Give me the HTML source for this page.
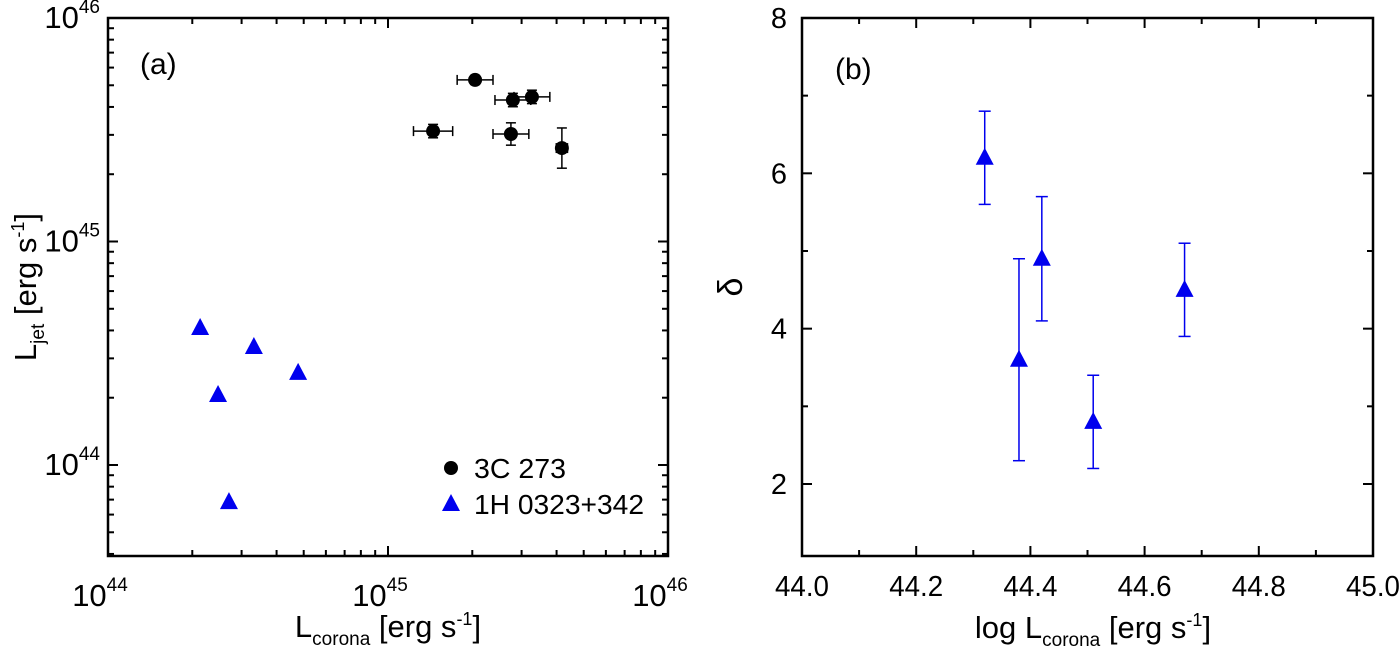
<!DOCTYPE html>
<html><head><meta charset="utf-8"><style>
html,body{margin:0;padding:0;background:#fff;}
svg{display:block;font-family:"Liberation Sans",Arial,sans-serif;}
</style></head><body>
<svg id="chart" width="1400" height="653" viewBox="0 0 1400 653"></svg>
<script>
// Panel (a) data (log10 values)
const quasarLogX = [45.311, 45.446, 45.514, 45.161, 45.439, 45.621];
const quasarLogY = [45.723, 45.633, 45.647, 45.494, 45.481, 45.418];
const quasarXErr = [0.064, 0.064, 0.064, 0.07, 0.064, 0.02];
const quasarYErr = [0.02, 0.03, 0.03, 0.03, 0.05, 0.09];
const nlsLogX = [44.329, 44.393, 44.521, 44.679, 44.432];
const nlsLogY = [44.613, 44.313, 44.528, 44.412, 43.834];
// Panel (b) data
const bLogL = [44.32, 44.38, 44.42, 44.51, 44.67];
const bDelta = [6.2, 3.6, 4.9, 2.8, 4.5];
const bErrLo = [5.6, 2.3, 4.1, 2.2, 3.9];
const bErrHi = [6.8, 4.9, 5.7, 3.4, 5.1];
const bXTicks = ["44.0","44.2","44.4","44.6","44.8","45.0"];
const bYTicks = [2,4,6,8];

const NS="http://www.w3.org/2000/svg";
const svg=document.getElementById('chart');
function mk(tag,attrs,parent){const e=document.createElementNS(NS,tag);for(const k in attrs)e.setAttribute(k,attrs[k]);(parent||svg).appendChild(e);return e;}
function line(x1,y1,x2,y2,c,w,p){return mk('line',{x1,y1,x2,y2,stroke:c||'#000','stroke-width':w||2},p);}

// Panel a axes
const aL=108,aR=668,aT=18,aB=556;
const ax=v=>aL+(v-44)*(aR-aL)/2;
const ay=v=>aT+(46-v)*223.5;
const gA=mk('g',{});


mk('rect',{x:aL,y:aT,width:aR-aL,height:aB-aT,fill:'none',stroke:'#000','stroke-width':2.5},gA);
for(let d=44;d<46;d++){for(let m=1;m<=10;m++){const v=d+Math.log10(m);const X=ax(v);const len=m===10||m===1?10:6;
 line(X,aB,X,aB-len,'#000',2,gA);line(X,aT,X,aT+len,'#000',2,gA);}}
for(let d=43;d<46;d++){for(let m=1;m<=10;m++){const v=d+Math.log10(m);if(v<43.59||v>46)continue;const Y=ay(v);const len=m===10||m===1?10:6;
 line(aL,Y,aL+len,Y,'#000',2,gA);line(aR,Y,aR-len,Y,'#000',2,gA);}}
function pow(x,y,e,anchor,p,name){const t=mk('text',{x,y,'font-size':31,'text-anchor':anchor},p);
 
 t.innerHTML='10<tspan dy="-15" font-size="19">'+e+'</tspan>';return t;}
[44,45,46].forEach(e=>pow(ax(e)-8,606,e,'middle',gA,'x-tick-label'));
[44,45,46].forEach(e=>pow(aL-8,ay(e)+10,e,'end',gA,'y-tick-label'));
let tt=mk('text',{x:140,y:74,'font-size':30},gA);tt.textContent='(a)';

tt=mk('text',{x:388,y:637,'font-size':31,'text-anchor':'middle'},gA);
tt.innerHTML='L<tspan dy="8" font-size="19">corona</tspan><tspan dy="-8"> [erg s</tspan><tspan dy="-12" font-size="18">-1</tspan><tspan dy="12">]</tspan>';

tt=mk('text',{x:0,y:0,'font-size':31,'text-anchor':'middle',transform:'translate(36,287) rotate(-90)'},gA);
tt.innerHTML='L<tspan dy="8" font-size="19">jet</tspan><tspan dy="-8">  [erg s</tspan><tspan dy="-12" font-size="18">-1</tspan><tspan dy="12">]</tspan>';

for(let i=0;i<quasarLogX.length;i++){
 const X=ax(quasarLogX[i]),Y=ay(quasarLogY[i]);
 const x1=ax(quasarLogX[i]-quasarXErr[i]),x2=ax(quasarLogX[i]+quasarXErr[i]);
 const y1=ay(quasarLogY[i]-quasarYErr[i]),y2=ay(quasarLogY[i]+quasarYErr[i]);
 const g=mk('g',{},gA);
 line(x1,Y,x2,Y,'#000',1.5,g);line(x1,Y-5,x1,Y+5,'#000',1.5,g);line(x2,Y-5,x2,Y+5,'#000',1.5,g);
 line(X,y1,X,y2,'#000',1.5,g);line(X-5,y1,X+5,y1,'#000',1.5,g);line(X-5,y2,X+5,y2,'#000',1.5,g);
 mk('circle',{cx:X,cy:Y,r:7,fill:'#000'},g);
}
function tri(X,Y,p,name){const t=mk('polygon',{points:`${X},${Y-10} ${X-9},${Y+7} ${X+9},${Y+7}`,fill:'#0000ee'},p);
 return t;}
for(let i=0;i<nlsLogX.length;i++)tri(ax(nlsLogX[i]),ay(nlsLogY[i]),gA,'point-1h0323');
// legend
const lg=mk('g',{},gA);
mk('circle',{cx:451,cy:468,r:7,fill:'#000'},lg);
tt=mk('text',{x:474,y:478,'font-size':28,textLength:92,lengthAdjust:'spacingAndGlyphs'},lg);tt.textContent='3C 273';

tri(451,504,lg,'legend-marker-1h0323');
tt=mk('text',{x:474,y:514,'font-size':28,textLength:170,lengthAdjust:'spacingAndGlyphs'},lg);tt.textContent='1H 0323+342';


// Panel b
const bL=802,bR=1373,bT=18,bB=556;
const bx=v=>bL+(v-44)*(bR-bL);
const by=v=>484-(v-2)*77.67;
const gB=mk('g',{});

mk('rect',{x:bL,y:bT,width:bR-bL,height:bB-bT,fill:'none',stroke:'#000','stroke-width':2.5},gB);
for(let k=0;k<=10;k++){const X=bx(44+k*0.1);const len=k%2?6:10;line(X,bB,X,bB-len,'#000',2,gB);line(X,bT,X,bT+len,'#000',2,gB);}
bXTicks.forEach(s=>{const t=mk('text',{x:bx(parseFloat(s)),y:596,'font-size':29,'text-anchor':'middle',textLength:54,lengthAdjust:'spacingAndGlyphs'},gB);t.textContent=s;
 });
for(let v=2;v<=8;v++){const Y=by(v);const len=v%2?6:10;line(bL,Y,bL+len,Y,'#000',2,gB);line(bR,Y,bR-len,Y,'#000',2,gB);}
bYTicks.forEach(v=>{const t=mk('text',{x:787,y:by(v)+10,'font-size':29,'text-anchor':'end'},gB);t.textContent=v;
 });
tt=mk('text',{x:835,y:79,'font-size':30},gB);tt.textContent='(b)';

tt=mk('text',{x:1093,y:638,'font-size':31,'text-anchor':'middle'},gB);
tt.innerHTML='log L<tspan dy="8" font-size="19">corona</tspan><tspan dy="-8">  [erg s</tspan><tspan dy="-12" font-size="18">-1</tspan><tspan dy="12">]</tspan>';

tt=mk('text',{x:0,y:0,'font-size':34,'text-anchor':'middle',transform:'translate(742,287) rotate(-90)'},gB);tt.textContent='δ';

for(let i=0;i<bLogL.length;i++){
 const X=bx(bLogL[i]),Y=by(bDelta[i]),y1=by(bErrLo[i]),y2=by(bErrHi[i]);
 const g=mk('g',{},gB);
 line(X,y1,X,y2,'#0000ee',1.5,g);line(X-6,y1,X+6,y1,'#0000ee',1.5,g);line(X-6,y2,X+6,y2,'#0000ee',1.5,g);
 tri(X,Y,g,'triangle-marker');
}
</script>
</body></html>
